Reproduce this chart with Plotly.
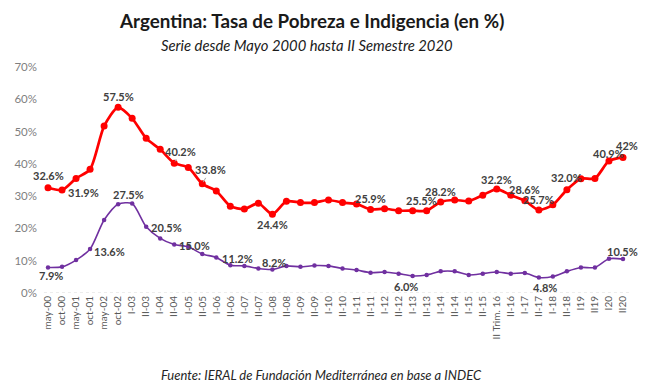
import plotly.graph_objects as go

categories = ["may-00", "oct-00", "may-01", "oct-01", "may-02", "oct-02",
              "I-03", "II-03", "I-04", "II-04", "I-05", "II-05", "I-06", "II-06",
              "I-07", "II-07", "I-08", "II-08", "I-09", "II-09", "I-10", "II-10",
              "I-11", "II-11", "I-12", "II-12", "I-13", "II-13", "I-14", "II-14",
              "I-15", "II-15", "II Trim. 16", "II-16", "I-17", "II-17", "I-18", "II-18",
              "I19", "II19", "I20", "II20"]

pobreza = [32.6, 31.9, 35.5, 38.3, 51.7, 57.5, 54.1, 47.9, 44.5, 40.2, 38.9, 33.8,
           31.6, 26.9, 26.0, 27.8, 24.4, 28.4, 28.0, 28.0, 28.8, 28.0, 27.6, 25.9,
           26.1, 25.5, 25.5, 25.5, 28.2, 28.8, 28.5, 30.3, 32.2, 30.3, 28.6, 25.7,
           27.3, 32.0, 35.4, 35.5, 40.9, 42.0]

indigencia = [7.9, 8.1, 10.2, 13.6, 22.6, 27.5, 27.7, 20.5, 16.9, 15.0, 14.3, 12.1,
              11.0, 8.6, 8.4, 7.6, 7.3, 8.4, 8.1, 8.5, 8.4, 7.6, 7.1, 6.3,
              6.5, 6.0, 5.3, 5.6, 6.7, 6.7, 5.6, 6.0, 6.5, 6.0, 6.2, 4.8,
              5.1, 6.7, 7.9, 7.9, 10.6, 10.5]

ytick_vals = [0, 10, 20, 30, 40, 50, 60, 70]
ytick_text = ["0%", "10%", "20%", "30%", "40%", "50%", "60%", "70%"]

# labelled points: (category, text, xshift, yshift, leader)
pobreza_labels = [("may-00", "32.6%", 0, 12, False), ("oct-00", "31.9%", 21, -2, False),
                  ("oct-02", "57.5%", 0, 11, False), ("II-04", "40.2%", 6, 12, True),
                  ("II-05", "33.8%", 8, 14, True), ("I-08", "24.4%", 0, -10, False),
                  ("II-11", "25.9%", 0, 11, False), ("II-13", "25.5%", -5, 10, False),
                  ("I-14", "28.2%", 0, 10, False), ("II Trim. 16", "32.2%", 0, 10, False),
                  ("I-17", "28.6%", 0, 11, False), ("II-17", "25.7%", 0, 11, False),
                  ("II-18", "32.0%", 0, 12, False), ("I20", "40.9%", 0, 7, False),
                  ("II20", "42%", 4, 12, False)]
indigencia_labels = [("may-00", "7.9%", 3, -8), ("oct-01", "13.6%", 19, -2),
                     ("oct-02", "27.5%", 10, 10), ("II-03", "20.5%", 20, -1),
                     ("II-04", "15.0%", 20, -1), ("I-06", "11.2%", 21, -1),
                     ("I-08", "8.2%", 2, 7), ("II-12", "6.0%", 7, -13),
                     ("II-17", "4.8%", 6, -10), ("II20", "10.5%", 0, 8)]

FONT = "Lato, 'Open Sans', sans-serif"

fig = go.Figure()
fig.add_trace(go.Scatter(x=categories, y=pobreza, mode="lines+markers",
                         line=dict(color="#FF0000", width=2.7, shape="spline", smoothing=0.7),
                         marker=dict(color="#FF0000", size=7), name="Pobreza",
                         hoverinfo="x+y"))
fig.add_trace(go.Scatter(x=categories, y=indigencia, mode="lines+markers",
                         line=dict(color="#7030A0", width=1.6, shape="spline", smoothing=0.7),
                         marker=dict(color="#7030A0", size=4.5), name="Indigencia",
                         hoverinfo="x+y"))

lab_font = dict(family=FONT, size=11, color="#404040")
for cat, txt, xs, ys, leader in pobreza_labels:
    v = pobreza[categories.index(cat)]
    if leader:
        fig.add_annotation(x=cat, y=v, xref="x", yref="y", text="<b>%s</b>" % txt,
                           showarrow=True, arrowhead=0, arrowwidth=1, arrowcolor="#a6a6a6",
                           ax=xs, ay=-ys, standoff=2, font=lab_font)
    else:
        fig.add_annotation(x=cat, y=v, xref="x", yref="y", text="<b>%s</b>" % txt,
                           showarrow=False, xshift=xs, yshift=ys, font=lab_font)
for cat, txt, xs, ys in indigencia_labels:
    v = indigencia[categories.index(cat)]
    fig.add_annotation(x=cat, y=v, xref="x", yref="y", text="<b>%s</b>" % txt,
                       showarrow=False, xshift=xs, yshift=ys, font=lab_font)

fig.update_layout(
    width=642, height=383,
    margin=dict(l=33, r=20, t=59, b=98),
    paper_bgcolor="white", plot_bgcolor="white",
    showlegend=False,
    font=dict(family=FONT, color="#595959"),
    xaxis=dict(type="category", tickangle=-90, showgrid=False, showline=False,
               zeroline=False, ticks="", tickfont=dict(size=10, color="#595959"),
               automargin=False,
               range=[-0.5, len(categories) - 0.5]),
    yaxis=dict(range=[0, 70], tickvals=ytick_vals, ticktext=ytick_text,
               showgrid=False, zeroline=False, showline=False,
               ticks="", ticklabelstandoff=3, automargin=False,
               tickfont=dict(size=11.5, color="#7f7f7f")),
)

# baseline
fig.add_shape(type="line", xref="paper", yref="y", x0=0.005, x1=1.0, y0=0, y1=0,
              line=dict(color="#d9d9d9", width=1, dash="dot"))

fig.add_annotation(x=0.46, y=1, xref="paper", yref="paper", yanchor="middle",
                   yshift=47, text="<b>Argentina: Tasa de Pobreza e Indigencia (en %)</b>",
                   showarrow=False, font=dict(family=FONT, size=18.8, color="#1a1a1a"))
fig.add_annotation(x=0.452, y=1, xref="paper", yref="paper", yanchor="middle",
                   yshift=22, text="<i>Serie desde Mayo 2000 hasta II Semestre 2020</i>",
                   showarrow=False, font=dict(family=FONT, size=14.8, color="#1a1a1a"))
fig.add_annotation(x=0.477, y=0, xref="paper", yref="paper", yanchor="middle",
                   yshift=-82, text="<i>Fuente: IERAL de Fundación Mediterránea en base a INDEC</i>",
                   showarrow=False, font=dict(family=FONT, size=13, color="#262626"))

fig.write_html("out.html")
